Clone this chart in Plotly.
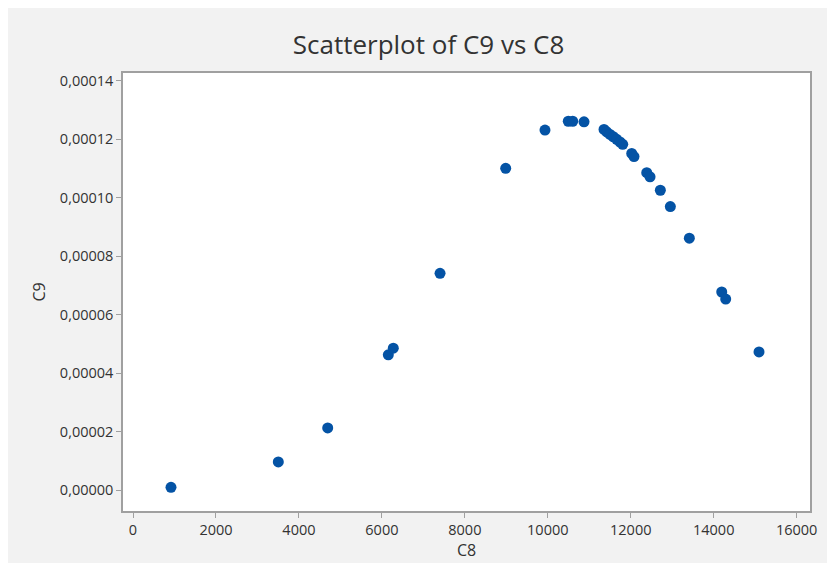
import plotly.graph_objects as go

# Data
c8 = [916, 3503, 4694, 6155, 6275, 7402, 8985, 9932, 10494, 10600, 10873,
      11355, 11420, 11500, 11579, 11661, 11741, 11806, 12023, 12078, 12385,
      12465, 12713, 12954, 13412, 14193, 14289, 15092]
c9 = [0.0000010, 0.0000097, 0.0000213, 0.0000463, 0.0000486, 0.0000742,
      0.0001101, 0.0001232, 0.0001262, 0.0001262, 0.0001260, 0.0001234,
      0.0001226, 0.0001217, 0.0001209, 0.0001200, 0.0001191, 0.0001183,
      0.0001152, 0.0001141, 0.0001086, 0.0001072, 0.0001026, 0.0000970,
      0.0000862, 0.0000678, 0.0000654, 0.0000473]

x_tickvals = [0, 2000, 4000, 6000, 8000, 10000, 12000, 14000, 16000]
x_ticktext = ["0", "2000", "4000", "6000", "8000", "10000", "12000", "14000", "16000"]
y_tickvals = [0, 0.00002, 0.00004, 0.00006, 0.00008, 0.00010, 0.00012, 0.00014]
y_ticktext = ["0,00000", "0,00002", "0,00004", "0,00006", "0,00008", "0,00010", "0,00012", "0,00014"]

FONT = "Open Sans"
GRID = "#a0a0a0"
TXT = "#333333"

fig = go.Figure()
fig.add_trace(go.Scatter(
    x=c8, y=c9, mode="markers",
    marker=dict(color="#0453a5", size=11, line=dict(width=0)),
    showlegend=False,
))

axis_common = dict(
    showline=True, linecolor=GRID, linewidth=1.5, mirror=True,
    ticks="outside", ticklen=5, tickcolor=GRID, tickwidth=1,
    showgrid=False, zeroline=False,
    tickfont=dict(family=FONT, size=14.5, color=TXT),
)

fig.update_layout(
    width=827, height=555,
    paper_bgcolor="#f2f2f2", plot_bgcolor="#ffffff",
    margin=dict(l=115, r=25, t=65, b=52),
    title=dict(text="Scatterplot of C9 vs C8", x=0.5085, xanchor="center",
               y=1 - 37 / 555, yanchor="middle",
               font=dict(family=FONT, size=26, color=TXT)),
    xaxis=dict(range=[-241, 16321], tickvals=x_tickvals, ticktext=x_ticktext,
               title=dict(text="C8", font=dict(family=FONT, size=16, color=TXT),
                          standoff=2),
               **axis_common),
    yaxis=dict(range=[-0.0000071, 0.0001427], tickvals=y_tickvals, ticktext=y_ticktext,
               title=dict(text="C9", font=dict(family=FONT, size=16, color=TXT),
                          standoff=10),
               **axis_common),
)

fig.write_html("out.html")
